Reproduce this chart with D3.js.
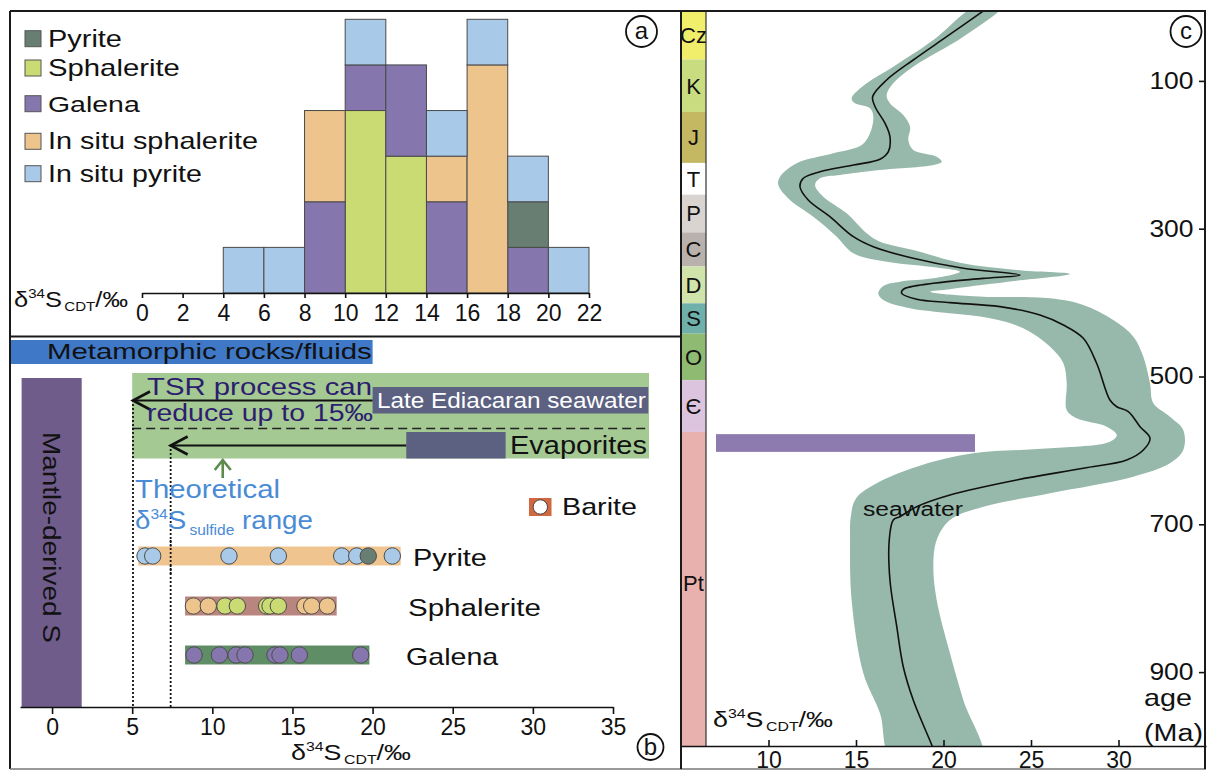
<!DOCTYPE html>
<html><head><meta charset="utf-8">
<script src="https://cdn.jsdelivr.net/npm/d3@7"></script>
<style>body{margin:0;background:#fff}</style>
</head><body>
<svg id="fig" width="1215" height="772"></svg>
<script>
// ================= DATA =================
// Panel a: histogram of δ34S (‰), bins of width 2
const binStarts = [4, 6, 8, 10, 12, 14, 16, 18, 20];
const binWidth = 2;
const stackOrder = ["Sphalerite", "Galena", "Pyrite", "In situ sphalerite", "In situ pyrite"];
const legendOrder = ["Pyrite", "Sphalerite", "Galena", "In situ sphalerite", "In situ pyrite"];
const sphaleriteCounts       = [0, 0, 0, 4, 3, 0, 0, 0, 0];
const galenaCounts           = [0, 0, 2, 1, 2, 2, 0, 1, 0];
const pyriteCounts           = [0, 0, 0, 0, 0, 0, 0, 1, 0];
const inSituSphaleriteCounts = [0, 0, 2, 0, 0, 1, 5, 0, 0];
const inSituPyriteCounts     = [1, 1, 0, 1, 0, 1, 1, 1, 1];
const histTicks = [0, 2, 4, 6, 8, 10, 12, 14, 16, 18, 20, 22];

// Panel b: ranges (δ34S ‰) and sample values
const metamorphicRange = [-2.6, 20];
const mantleRange = [-1.9, 1.85];
const tsrRange = [5, 37.25];
const lateEdiacaranRange = [20, 37.2];
const evaporiteRange = [22.1, 28.3];
const tsrArrowTips = [5.05, 7.4];
const theoreticalArrowAt = 10.65;
const pyriteRange = [5.38, 21.75];
const sphaleriteRange = [8.3, 17.76];
const galenaRange = [8.3, 19.8];
const pyriteValues = [5.8, 6.28, 11.04, 14.12, 18.07, 19.01, 19.73, 21.23];
const pyriteKinds = ["In situ pyrite", "In situ pyrite", "In situ pyrite", "In situ pyrite", "In situ pyrite", "In situ pyrite", "Pyrite", "In situ pyrite"];
const sphaleriteValues = [8.82, 9.75, 10.79, 11.56, 13.39, 13.6, 14.12, 15.78, 16.2, 17.18];
const sphaleriteKinds = ["In situ sphalerite", "In situ sphalerite", "Sphalerite", "Sphalerite", "Sphalerite", "Sphalerite", "Sphalerite", "In situ sphalerite", "In situ sphalerite", "In situ sphalerite"];
const galenaValues = [8.86, 10.44, 11.48, 12.04, 13.91, 14.22, 15.43, 19.26];
const bTicks = [0, 5, 10, 15, 20, 25, 30, 35];

// Panel c: seawater δ34S (‰) vs age (Ma)
const periodNames = ["Cz", "K", "J", "T", "P", "C", "D", "S", "O", "Є", "Pt"];
const periodTops  = [5.4, 71, 142, 211, 254, 305, 351, 401, 442, 505, 575];
const periodBase  = 1000;
const seawaterMean = [[22.6,0],[20.18,40.2],[18.27,71.7],[16.75,98.8],[15.95,121.4],[16.09,134.9],[16.66,157.4],[16.94,175.5],[16.85,195.8],[16.37,206.1],[14.85,213.8],[12.94,222.9],[11.99,231.8],[11.8,243.2],[12.27,261.2],[13.51,283.8],[14.85,310.8],[15.99,324.4],[18.27,340.1],[21.13,353.6],[24.37,362.7],[22.27,367.2],[19.42,373.9],[17.7,382],[17.61,387.4],[18.47,395.5],[20.37,400],[23.23,405.5],[25.51,416.8],[26.85,430.3],[27.99,448.3],[28.75,482.1],[29.51,531.8],[29.9,540.9],[30.56,547.6],[31.23,567.9],[31.8,583.7],[31.42,599.5],[30.47,613],[27.99,624.2],[24.18,640],[20.37,660.4],[18.47,676.2],[17.51,689.7],[17.13,694.2],[16.9,721.2],[16.94,775.4],[17.33,838.5],[17.7,892.7],[18.27,937.7],[19.33,998.6],[19.6,1015]];
const seawaterBandWest = [[21.8,0],[19.42,44.7],[17.13,80.8],[15.61,103.3],[14.75,123.6],[14.94,130.3],[15.8,137.1],[15.99,148.4],[15.8,170.9],[15.33,186.7],[13.7,198],[11.61,211.5],[10.66,229.6],[10.56,240.9],[11.23,261.2],[12.56,283.8],[13.9,310.8],[14.85,333.3],[16.75,344.6],[19.23,351.4],[20.94,358.2],[19.42,367.2],[17.51,371.7],[16.56,377.5],[16.27,387.4],[16.56,396.5],[18.09,407.7],[20.37,414.5],[22.66,421.2],[24.56,434.8],[26.09,459.7],[26.85,482.1],[27.04,509.2],[27.04,545.3],[27.61,556.6],[29.33,567.9],[29.9,579.2],[29.51,588.2],[26.09,597.2],[21.7,604],[18.47,622],[16.18,644.5],[15.0,665],[14.7,690],[14.66,721],[14.75,802.4],[15.42,901.6],[16.37,955.7],[17.1,1020]];
const seawaterBandEast = [[23.3,0],[21.13,40.2],[18.27,80.8],[17.13,103.3],[16.75,119.1],[16.94,130.3],[17.7,146.1],[18.09,162],[17.99,180],[18.27,193.5],[19.61,202.6],[19.9,209.3],[19.42,213.8],[16.37,220.6],[14.09,227.3],[12.94,231.8],[12.66,240.9],[13.13,256.7],[14.47,279.2],[15.61,306.2],[16.37,317.6],[18.27,328.8],[20.94,346],[24.18,355.9],[27.23,361.3],[24.18,370.4],[22.28,376],[20.37,381.8],[19.23,385.2],[20.37,389.2],[22.28,392],[26.09,394.2],[27.99,403.2],[29.7,423.5],[30.85,446.1],[31.42,473.2],[31.8,509.2],[31.99,536.3],[32.94,554.4],[33.7,572.4],[33.7,599.5],[32.94,617.5],[30.85,635.6],[26.09,658],[22.28,676.2],[20.37,694.2],[19.61,721.2],[19.42,757.4],[19.61,802.4],[20.37,874.6],[21.13,937.7],[22.2,1020]];
const sulfideBarRange = [7.0, 21.8];
const sulfideBarAges = [578, 602];
const ageTicks = [100, 300, 500, 700, 900];
const cTicks = [10, 15, 20, 25, 30];

// ================= STYLE =================
const FONT = '"Liberation Sans", Arial, Helvetica, sans-serif';
const colors = {
  "Pyrite": "#687e73", "Sphalerite": "#cbdb74", "Galena": "#8577ae",
  "In situ sphalerite": "#ecc48c", "In situ pyrite": "#a8cae8"
};
const periodColors = ["#f1ee6c", "#cadc80", "#c5b862", "#ffffff", "#dad4d0", "#b9b1ab", "#cfe3aa", "#6fb0aa", "#8fba72", "#dcc4df", "#e8b1ad"];

const svg = d3.select("#fig").attr("font-family", FONT);

function label(parent, x, y, parts, opt = {}) {
  const g = parent.append("g");
  const t = g.append("text").attr("fill", opt.fill || "#111").attr("font-family", FONT);
  if (opt.y0) t.attr("y", opt.y0);
  parts.forEach(p => {
    const ts = t.append("tspan").attr("font-size", p[1]).text(p[0]);
    if (p[2]) ts.attr("dy", p[2]);
    if (p[3]) ts.attr("dx", p[3]);
  });
  const w0 = t.node().getBBox().width;
  let tr = `translate(${x},${y})`;
  if (opt.rotate) tr += ` rotate(${opt.rotate})`;
  if (opt.center) tr += ` translate(${-opt.width / 2},0)`;
  if (opt.width) tr += ` scale(${opt.width / w0},1)`;
  g.attr("transform", tr);
  return g;
}
function styleAxis(g, size) {
  g.attr("font-family", FONT).attr("font-size", size);
  g.selectAll("text").attr("fill", "#111");
  g.selectAll("line,path").attr("stroke", "#111").attr("stroke-width", 1.6);
}
function circledLetter(cx, cy, r, ch) {
  svg.append("circle").attr("cx", cx).attr("cy", cy).attr("r", r).attr("fill", "none").attr("stroke", "#111").attr("stroke-width", 1.8);
  svg.append("text").attr("x", cx).attr("y", cy + 7.5).attr("text-anchor", "middle").attr("font-size", 24).attr("fill", "#111").text(ch);
}

// ================= PANEL A =================
const xA = d3.scaleLinear().domain([0, 22]).range([142, 589]);
const yA = d3.scaleLinear().domain([0, 6]).range([293, 19.3]);
const histCounts = {
  "Sphalerite": sphaleriteCounts, "Galena": galenaCounts, "Pyrite": pyriteCounts,
  "In situ sphalerite": inSituSphaleriteCounts, "In situ pyrite": inSituPyriteCounts
};
const histRows = binStarts.map((b, i) => {
  const r = { bin: b };
  stackOrder.forEach(k => r[k] = histCounts[k][i]);
  return r;
});
const layers = d3.stack().keys(stackOrder)(histRows);
const gA = svg.append("g");
layers.forEach(layer => {
  gA.selectAll(null).data(layer.filter(d => d[1] > d[0])).join("rect")
    .attr("x", d => xA(d.data.bin)).attr("width", d => xA(d.data.bin + binWidth) - xA(d.data.bin))
    .attr("y", d => yA(d[1])).attr("height", d => yA(d[0]) - yA(d[1]))
    .attr("fill", colors[layer.key]).attr("stroke", "#4a4a4a").attr("stroke-width", 1);
});
gA.append("g").attr("transform", "translate(0,293)")
  .call(d3.axisBottom(xA).tickValues(histTicks).tickFormat(d3.format("d")).tickSize(5).tickPadding(7).tickSizeOuter(0))
  .call(g => styleAxis(g, 23));
label(svg, 14, 307, [["δ", 22], ["34", 13, -9], ["S", 22, 9], ["CDT", 13, 4, 2], ["/‰", 22, -4]], { width: 114 });

// legend
const legendBase = [46.7, 76, 111.7, 149.3, 181.7];
const legendWidths = [74, 132, 92, 210, 154];
legendOrder.forEach((k, i) => {
  svg.append("rect").attr("x", 25).attr("y", legendBase[i] - 16).attr("width", 16).attr("height", 16)
    .attr("fill", colors[k]).attr("stroke", "#555").attr("stroke-width", 1);
  label(svg, 48, legendBase[i], [[k, 23]], { width: legendWidths[i] });
});

// ================= PANEL B =================
const xB = d3.scaleLinear().domain([-2, 35]).range([20, 613]);
const gB = svg.append("g");
// Metamorphic rocks/fluids
gB.append("rect").attr("x", xB(metamorphicRange[0])).attr("width", xB(metamorphicRange[1]) - xB(metamorphicRange[0]))
  .attr("y", 340).attr("height", 24).attr("fill", "#3f78c6");
label(gB, 47, 359, [["Metamorphic rocks/fluids", 22]], { width: 325 });
// Mantle-derived S
gB.append("rect").attr("x", xB(mantleRange[0])).attr("width", xB(mantleRange[1]) - xB(mantleRange[0]))
  .attr("y", 378).attr("height", 329).attr("fill", "#6f5c8b");
label(gB, (xB(mantleRange[0]) + xB(mantleRange[1])) / 2 - 8.6, 537.5, [["Mantle-derived S", 24]], { rotate: 90, center: true, width: 211 });
// TSR green box
gB.append("rect").attr("x", xB(tsrRange[0])).attr("width", xB(tsrRange[1]) - xB(tsrRange[0]))
  .attr("y", 373).attr("height", 85.5).attr("fill", "#a4c993");
gB.append("rect").attr("x", xB(lateEdiacaranRange[0])).attr("width", xB(lateEdiacaranRange[1]) - xB(lateEdiacaranRange[0]))
  .attr("y", 387).attr("height", 26.5).attr("fill", "#5c6181");
label(gB, 377, 408, [["Late Ediacaran seawater", 22]], { width: 269, fill: "#ffffff" });
gB.append("rect").attr("x", xB(evaporiteRange[0])).attr("width", xB(evaporiteRange[1]) - xB(evaporiteRange[0]))
  .attr("y", 432).attr("height", 26.5).attr("fill", "#5c6181");
label(gB, 510, 454, [["Evaporites", 26]], { width: 137 });
gB.append("line").attr("x1", xB(tsrRange[0])).attr("x2", xB(tsrRange[1])).attr("y1", 428.5).attr("y2", 428.5)
  .attr("stroke", "#222").attr("stroke-width", 1.5).attr("stroke-dasharray", "9,5");
// arrows
function leftArrow(tip, from, y) {
  gB.append("line").attr("x1", xB(tip)).attr("x2", xB(from)).attr("y1", y).attr("y2", y).attr("stroke", "#111").attr("stroke-width", 2);
  gB.append("path").attr("d", `M${xB(tip) + 17},${y - 9}L${xB(tip)},${y}L${xB(tip) + 17},${y + 9}`)
    .attr("fill", "none").attr("stroke", "#111").attr("stroke-width", 2.6);
}
leftArrow(tsrArrowTips[0], lateEdiacaranRange[0], 400.5);
leftArrow(tsrArrowTips[1], evaporiteRange[0], 445.5);
label(gB, 147, 395, [["TSR process can", 24]], { width: 225, fill: "#2d1d6f" });
label(gB, 147, 421, [["reduce up to 15‰", 24]], { width: 226, fill: "#2d1d6f" });
// dotted lines
[[tsrArrowTips[0], 400], [tsrArrowTips[1], 445]].forEach(([v, y0]) => {
  gB.append("line").attr("x1", xB(v)).attr("x2", xB(v)).attr("y1", y0).attr("y2", 707)
    .attr("stroke", "#111").attr("stroke-width", 1.8).attr("stroke-dasharray", "2,2");
});
// green up arrow
const ga = xB(theoreticalArrowAt);
gB.append("path").attr("d", `M${ga},478L${ga},461M${ga - 8},470L${ga},460L${ga + 8},470`)
  .attr("fill", "none").attr("stroke", "#5c8b4c").attr("stroke-width", 2.6);
label(gB, 135, 498, [["Theoretical", 25]], { width: 145, fill: "#4a8bd6" });
label(gB, 135, 529, [["δ", 25], ["34", 14, -10], ["S", 25, 10], ["sulfide", 14, 6, 3], [" range", 25, -6]], { width: 178, fill: "#4a8bd6" });
// Barite legend
gB.append("rect").attr("x", 529).attr("y", 498).attr("width", 22.5).attr("height", 18).attr("fill", "#d2683f");
gB.append("circle").attr("cx", 540.3).attr("cy", 507).attr("r", 7.2).attr("fill", "#fff").attr("stroke", "#444").attr("stroke-width", 1);
label(gB, 562, 515, [["Barite", 24]], { width: 75 });
// sample rows
const sampleRows = [
  { name: "Pyrite", range: pyriteRange, fill: "#efc48f", cy: 556, values: pyriteValues, kinds: pyriteKinds, lx: 413, lw: 74 },
  { name: "Sphalerite", range: sphaleriteRange, fill: "#b8867e", cy: 606, values: sphaleriteValues, kinds: sphaleriteKinds, lx: 408, lw: 133 },
  { name: "Galena", range: galenaRange, fill: "#5f8d66", cy: 655, values: galenaValues, kinds: galenaValues.map(() => "Galena"), lx: 406, lw: 93 }
];
sampleRows.forEach(r => {
  gB.append("rect").attr("x", xB(r.range[0])).attr("width", xB(r.range[1]) - xB(r.range[0]))
    .attr("y", r.cy - 9.5).attr("height", 19).attr("fill", r.fill);
});
// redraw dotted line over pyrite bar
gB.append("line").attr("x1", xB(tsrArrowTips[1])).attr("x2", xB(tsrArrowTips[1])).attr("y1", 540).attr("y2", 575)
  .attr("stroke", "#111").attr("stroke-width", 1.8).attr("stroke-dasharray", "2,2");
sampleRows.forEach(r => {
  gB.selectAll(null).data(r.values.map((v, i) => ({ v, k: r.kinds[i] }))).join("circle")
    .attr("cx", d => xB(d.v)).attr("cy", r.cy).attr("r", 8.2)
    .attr("fill", d => colors[d.k]).attr("stroke", "#4d4d4d").attr("stroke-width", 1);
  label(gB, r.lx, r.cy + 9.5, [[r.name, 24]], { width: r.lw });
});
gB.append("g").attr("transform", "translate(0,707)")
  .call(d3.axisBottom(xB).tickValues(bTicks).tickSize(7).tickPadding(5).tickSizeOuter(0))
  .call(g => styleAxis(g, 23));
label(svg, 291, 760, [["δ", 22], ["34", 13, -9], ["S", 22, 9], ["CDT", 13, 4, 2], ["/‰", 22, -4]], { width: 120 });

// ================= PANEL C =================
const xC = d3.scaleLinear().domain([5, 35]).range([681, 1206]);
const yC = d3.scaleLinear().domain([0, 1000]).range([7, 746]);
const gC = svg.append("g");
svg.append("clipPath").attr("id", "clipC").append("rect").attr("x", 706).attr("y", 11).attr("width", 500).attr("height", 735);
const plotC = gC.append("g").attr("clip-path", "url(#clipC)");
const bandPts = seawaterBandWest.concat(seawaterBandEast.slice().reverse());
plotC.append("path").attr("d", d3.line().x(d => xC(d[0])).y(d => yC(d[1])).curve(d3.curveCatmullRomClosed.alpha(0.5))(bandPts))
  .attr("fill", "#97b9ab").attr("stroke", "none");
plotC.append("path").attr("d", d3.line().x(d => xC(d[0])).y(d => yC(d[1])).curve(d3.curveCatmullRom.alpha(0.5))(seawaterMean))
  .attr("fill", "none").attr("stroke", "#111").attr("stroke-width", 1.6);
label(gC, 863, 516, [["seawater", 21]], { width: 100 });
// sulfide range bar
gC.append("rect").attr("x", xC(sulfideBarRange[0])).attr("width", xC(sulfideBarRange[1]) - xC(sulfideBarRange[0]))
  .attr("y", yC(sulfideBarAges[0])).attr("height", yC(sulfideBarAges[1]) - yC(sulfideBarAges[0])).attr("fill", "#8d7bb0");
// stratigraphic column
periodNames.forEach((p, i) => {
  const top = periodTops[i], base = i < periodNames.length - 1 ? periodTops[i + 1] : periodBase;
  gC.append("rect").attr("x", 681).attr("width", 25).attr("y", yC(top)).attr("height", yC(base) - yC(top))
    .attr("fill", periodColors[i]);
  gC.append("text").attr("x", 693.5).attr("y", (yC(top) + yC(base)) / 2 + (p === "Pt" ? -6 : 0)).attr("dy", "0.36em")
    .attr("text-anchor", "middle").attr("font-size", 22).attr("fill", "#111").text(p);
});
gC.append("line").attr("x1", 706).attr("x2", 706).attr("y1", 11).attr("y2", 746).attr("stroke", "#333").attr("stroke-width", 1.2);
// axes
gC.append("g").attr("transform", "translate(0,746)")
  .call(d3.axisBottom(xC).tickValues(cTicks).tickSize(-6).tickPadding(6).tickSizeOuter(0))
  .call(g => styleAxis(g, 23));
gC.append("g").attr("transform", "translate(1205,0)")
  .call(d3.axisLeft(yC).tickValues(ageTicks).tickSize(6).tickPadding(4).tickSizeOuter(0))
  .call(g => { styleAxis(g, 23); g.select(".domain").remove(); g.selectAll("text").attr("transform", "scale(1.15,1)"); });
label(gC, 1144, 706, [["age", 23]], { width: 48 });
label(gC, 1144, 741, [["(Ma)", 23]], { width: 59 });
label(gC, 713, 727, [["δ", 22], ["34", 13, -9], ["S", 22, 9], ["CDT", 13, 4, 2], ["/‰", 22, -4]], { width: 120 });

// ================= FRAMES & PANEL LETTERS =================
const fr = svg.append("g").attr("stroke", "#1a1a1a").attr("fill", "none");
fr.append("line").attr("x1", 10).attr("x2", 1206).attr("y1", 11).attr("y2", 11).attr("stroke-width", 2);
fr.append("line").attr("x1", 10).attr("x2", 10).attr("y1", 11).attr("y2", 769).attr("stroke-width", 2);
fr.append("line").attr("x1", 10).attr("x2", 1206).attr("y1", 769).attr("y2", 769).attr("stroke-width", 1.5).attr("stroke", "#777");
fr.append("line").attr("x1", 1205).attr("x2", 1205).attr("y1", 11).attr("y2", 769).attr("stroke-width", 2);
fr.append("line").attr("x1", 10).attr("x2", 681).attr("y1", 336.5).attr("y2", 336.5).attr("stroke-width", 2);
fr.append("line").attr("x1", 681).attr("x2", 681).attr("y1", 11).attr("y2", 769).attr("stroke-width", 2);
circledLetter(641.5, 31.5, 15.5, "a");
circledLetter(650.5, 747, 13, "b");
circledLetter(1186, 31.5, 15.5, "c");
</script>
</body></html>
